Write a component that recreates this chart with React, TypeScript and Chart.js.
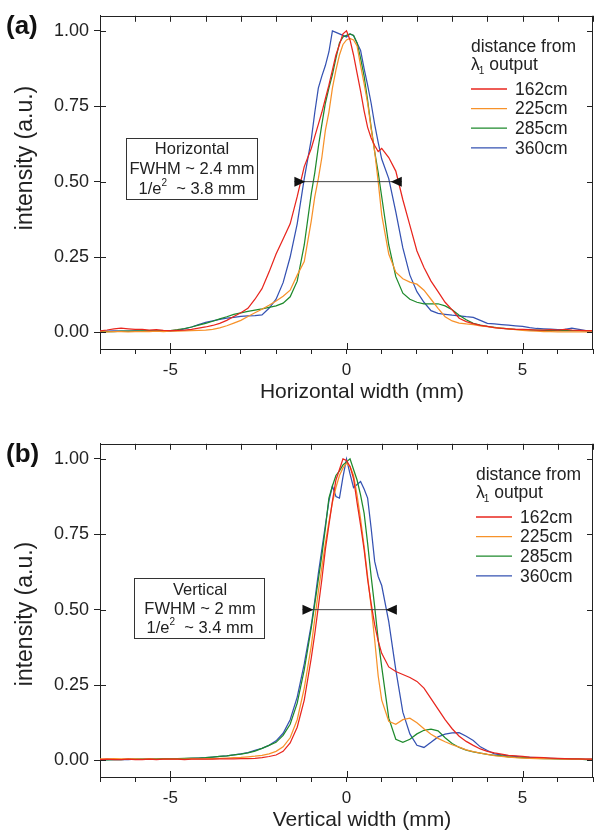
import React, { useEffect, useRef } from 'react';
import { Chart, registerables } from 'chart.js';

Chart.register(...registerables);

const FONT = '"Liberation Sans", Arial, Helvetica, sans-serif';

// shared x positions (mm)
const xValues = [
  -7.0, -6.8, -6.6, -6.4, -6.2, -6.0, -5.8, -5.6, -5.4, -5.2, -5.0, -4.8, -4.6, -4.4, -4.2, -4.0, -3.8, -3.6, -3.4, -3.2,
  -3.0, -2.8, -2.6, -2.4, -2.2, -2.0, -1.8, -1.6, -1.4, -1.2,
  -1.0, -0.9, -0.8, -0.7, -0.6, -0.5, -0.4, -0.3, -0.2, -0.1, 0, 0.1, 0.2, 0.3, 0.4, 0.5, 0.6, 0.7, 0.8, 0.9, 1.0,
  1.2, 1.4, 1.6, 1.8, 2.0, 2.2, 2.4, 2.6, 2.8, 3.0, 3.2, 3.4, 3.6, 3.8, 4.0, 4.2, 4.4, 4.6, 4.8,
  5.0, 5.2, 5.4, 5.6, 5.8, 6.0, 6.2, 6.4, 6.6, 6.8, 7.0,
];

// (a) horizontal profiles
const hRed = [
  0.005, 0.008, 0.012, 0.014, 0.012, 0.010, 0.010, 0.008, 0.009, 0.007, 0.006, 0.007, 0.008, 0.010, 0.014, 0.018, 0.023, 0.030, 0.040, 0.053,
  0.065, 0.080, 0.110, 0.145, 0.200, 0.260, 0.310, 0.360, 0.450, 0.550,
  0.61, 0.65, 0.69, 0.73, 0.775, 0.82, 0.87, 0.92, 0.955, 0.99, 1.0, 0.97, 0.92, 0.86, 0.80, 0.735, 0.68, 0.645, 0.62, 0.60, 0.61,
  0.58, 0.535, 0.44, 0.355, 0.27, 0.215, 0.17, 0.135, 0.10, 0.075, 0.047, 0.036, 0.029, 0.023, 0.020, 0.016, 0.013, 0.012, 0.010,
  0.010, 0.009, 0.008, 0.008, 0.009, 0.008, 0.010, 0.008, 0.007, 0.006, 0.006,
];
const hOrange = [
  0.002, 0.002, 0.003, 0.003, 0.002, 0.003, 0.003, 0.003, 0.004, 0.003, 0.004, 0.004, 0.005, 0.006, 0.007, 0.008, 0.010, 0.015, 0.022, 0.031,
  0.040, 0.053, 0.065, 0.077, 0.090, 0.104, 0.120, 0.140, 0.190, 0.235,
  0.37, 0.45, 0.51, 0.58, 0.67, 0.73, 0.81, 0.87, 0.92, 0.955, 0.97, 0.975, 0.97, 0.95, 0.885, 0.825, 0.76, 0.675, 0.60, 0.50, 0.39,
  0.26, 0.20, 0.178, 0.167, 0.16, 0.14, 0.11, 0.08, 0.052, 0.038, 0.031, 0.028, 0.026, 0.022, 0.019, 0.016, 0.014, 0.012, 0.009,
  0.007, 0.005, 0.004, 0.003, 0.003, 0.002, 0.002, 0.002, 0.002, 0.002, 0.002,
];
const hGreen = [
  0.003, 0.003, 0.003, 0.004, 0.004, 0.004, 0.005, 0.005, 0.005, 0.006, 0.006, 0.009, 0.013, 0.018, 0.024, 0.030, 0.037, 0.045, 0.052, 0.060,
  0.065, 0.070, 0.074, 0.078, 0.083, 0.088, 0.097, 0.118, 0.17, 0.29,
  0.46, 0.53, 0.615, 0.69, 0.76, 0.81, 0.855, 0.91, 0.96, 0.98, 0.985, 0.99, 0.985, 0.96, 0.91, 0.85, 0.77, 0.68, 0.60, 0.53, 0.45,
  0.29, 0.185, 0.13, 0.11, 0.10, 0.095, 0.095, 0.095, 0.088, 0.075, 0.057, 0.042, 0.030, 0.024, 0.020, 0.017, 0.014, 0.012, 0.010,
  0.009, 0.008, 0.008, 0.007, 0.007, 0.006, 0.006, 0.006, 0.006, 0.005, 0.005,
];
const hBlue = [
  0.004, 0.004, 0.005, 0.004, 0.004, 0.005, 0.004, 0.004, 0.005, 0.004, 0.004, 0.007, 0.012, 0.018, 0.026, 0.033, 0.038, 0.043, 0.047, 0.050,
  0.053, 0.055, 0.056, 0.058, 0.080, 0.11, 0.165, 0.25, 0.36, 0.51,
  0.64, 0.73, 0.81, 0.85, 0.885, 0.93, 1.0, 0.995, 0.99, 0.985, 0.98, 0.99, 0.985, 0.96, 0.935, 0.875, 0.82, 0.76, 0.69, 0.63, 0.575,
  0.51, 0.40, 0.28, 0.19, 0.135, 0.10, 0.072, 0.063, 0.060, 0.057, 0.055, 0.052, 0.050, 0.040, 0.030, 0.028, 0.026, 0.024, 0.022,
  0.020, 0.016, 0.013, 0.012, 0.011, 0.009, 0.010, 0.014, 0.010, 0.006, 0.005,
];

// (b) vertical profiles
const vRed = [
  0.003, 0.004, 0.003, 0.003, 0.004, 0.003, 0.003, 0.004, 0.003, 0.004, 0.004, 0.004, 0.003, 0.004, 0.004, 0.004, 0.004, 0.005, 0.005, 0.005,
  0.006, 0.006, 0.007, 0.009, 0.013, 0.018, 0.030, 0.058, 0.11, 0.20,
  0.34, 0.42, 0.51, 0.60, 0.70, 0.78, 0.86, 0.93, 0.965, 1.0, 0.995, 0.975, 0.935, 0.855, 0.78, 0.70, 0.60, 0.52, 0.45, 0.396, 0.355,
  0.31, 0.295, 0.285, 0.275, 0.262, 0.24, 0.205, 0.17, 0.135, 0.105, 0.08, 0.063, 0.05, 0.038, 0.03, 0.025, 0.021, 0.017, 0.015,
  0.013, 0.011, 0.010, 0.009, 0.008, 0.007, 0.006, 0.005, 0.005, 0.004, 0.004,
];
const vOrange = [
  0.005, 0.005, 0.006, 0.005, 0.005, 0.005, 0.004, 0.005, 0.004, 0.004, 0.004, 0.004, 0.004, 0.005, 0.005, 0.005, 0.006, 0.007, 0.008, 0.009,
  0.010, 0.012, 0.014, 0.017, 0.022, 0.030, 0.045, 0.075, 0.135, 0.24,
  0.38, 0.47, 0.56, 0.64, 0.72, 0.79, 0.855, 0.905, 0.945, 0.97, 0.985, 0.975, 0.945, 0.88, 0.80, 0.71, 0.61, 0.51, 0.40, 0.28, 0.20,
  0.13, 0.12, 0.135, 0.14, 0.125, 0.105, 0.087, 0.073, 0.062, 0.052, 0.044, 0.035, 0.029, 0.024, 0.020, 0.016, 0.013, 0.011, 0.009,
  0.008, 0.007, 0.006, 0.006, 0.005, 0.005, 0.004, 0.004, 0.004, 0.004, 0.004,
];
const vGreen = [
  0.002, 0.002, 0.003, 0.003, 0.004, 0.004, 0.004, 0.005, 0.005, 0.006, 0.006, 0.006, 0.007, 0.008, 0.008, 0.009, 0.011, 0.013, 0.015, 0.018,
  0.021, 0.025, 0.031, 0.040, 0.050, 0.060, 0.083, 0.12, 0.19, 0.30,
  0.44, 0.52, 0.60, 0.68, 0.77, 0.87, 0.91, 0.945, 0.96, 0.98, 0.99, 1.0, 0.965, 0.93, 0.88, 0.82, 0.72, 0.61, 0.51, 0.40, 0.31,
  0.14, 0.07, 0.06, 0.07, 0.088, 0.10, 0.104, 0.098, 0.075, 0.056, 0.043, 0.034, 0.028, 0.024, 0.020, 0.017, 0.015, 0.012, 0.010,
  0.009, 0.008, 0.007, 0.006, 0.006, 0.005, 0.005, 0.004, 0.004, 0.003, 0.003,
];
const vBlue = [
  0.003, 0.003, 0.003, 0.003, 0.003, 0.004, 0.004, 0.004, 0.004, 0.005, 0.005, 0.005, 0.006, 0.007, 0.008, 0.009, 0.011, 0.013, 0.015, 0.018,
  0.022, 0.026, 0.033, 0.040, 0.050, 0.065, 0.09, 0.135, 0.21, 0.32,
  0.45, 0.53, 0.62, 0.70, 0.78, 0.86, 0.91, 0.875, 0.87, 0.94, 1.0, 0.95, 0.905, 0.915, 0.925, 0.90, 0.87, 0.77, 0.66, 0.61, 0.58,
  0.46, 0.30, 0.16, 0.088, 0.05, 0.043, 0.06, 0.078, 0.087, 0.091, 0.092, 0.08, 0.066, 0.045, 0.033, 0.022, 0.018, 0.015, 0.013,
  0.011, 0.010, 0.009, 0.008, 0.007, 0.006, 0.005, 0.005, 0.004, 0.004, 0.004,
];

const seriesLabels = ['162cm', '225cm', '285cm', '360cm'];
const seriesColors = ['#e8261e', '#f7922a', '#1e8a2c', '#3552b2'];

// FWHM arrow extents (mm) at half maximum
const hArrow = [-1.48, 1.57];
const vArrow = [-1.25, 1.43];

type Seg = { t: string; sup?: boolean };

interface PanelSpec {
  tag: string;
  xTitle: string;
  series: number[][];
  arrow: number[];
  boxLines: Seg[][];
  box: number[]; // x, y, w, h
  boxTextX: number;
  boxTextY: number[];
  legendX: number;
  yTitleY: number;
}

const panelA: PanelSpec = {
  tag: '(a)',
  xTitle: 'Horizontal width (mm)',
  series: [hRed, hOrange, hGreen, hBlue],
  arrow: hArrow,
  boxLines: [[{ t: 'Horizontal' }], [{ t: 'FWHM ~ 2.4 mm' }], [{ t: '1/e' }, { t: '2', sup: true }, { t: '  ~ 3.8 mm' }]],
  box: [126, 138, 131, 61],
  boxTextX: 192,
  boxTextY: [149, 169.5, 189.5],
  legendX: 471,
  yTitleY: 158,
};

const panelB: PanelSpec = {
  tag: '(b)',
  xTitle: 'Vertical width (mm)',
  series: [vRed, vOrange, vGreen, vBlue],
  arrow: vArrow,
  boxLines: [[{ t: 'Vertical' }], [{ t: 'FWHM ~ 2 mm' }], [{ t: '1/e' }, { t: '2', sup: true }, { t: '  ~ 3.4 mm' }]],
  box: [134, 150, 130, 60],
  boxTextX: 200,
  boxTextY: [162, 181, 200],
  legendX: 476,
  yTitleY: 186,
};

const CW = 594;
const CH = 403;
const INK = '#222';

function Panel({ spec, top }: { spec: PanelSpec; top: number }) {
  const ref = useRef<HTMLCanvasElement>(null);

  useEffect(() => {
    const canvas = ref.current;
    if (!canvas) return;

    const decor = {
      id: 'decor',
      afterDraw(chart: any) {
        const ctx: CanvasRenderingContext2D = chart.ctx;
        const xs = chart.scales.x;
        const ys = chart.scales.y;
        const { left, right, top: t, bottom } = chart.chartArea;
        ctx.save();

        // frame (top, right) + inward ticks
        ctx.strokeStyle = INK;
        ctx.lineWidth = 1;
        ctx.beginPath();
        ctx.moveTo(left, Math.round(t) + 0.5);
        ctx.lineTo(right, Math.round(t) + 0.5);
        ctx.moveTo(Math.round(right) - 0.5, t);
        ctx.lineTo(Math.round(right) - 0.5, bottom);
        xs.ticks.forEach((tk: any) => {
          const px = Math.round(xs.getPixelForValue(tk.value)) + 0.5;
          ctx.moveTo(px, t);
          ctx.lineTo(px, t + 6);
          if (Math.abs(tk.value % 5) < 1e-9) {
            ctx.moveTo(px, bottom);
            ctx.lineTo(px, bottom - 6);
          }
        });
        ys.ticks.forEach((tk: any) => {
          const py = Math.round(ys.getPixelForValue(tk.value)) + 0.5;
          ctx.moveTo(left, py);
          ctx.lineTo(left + 6, py);
          ctx.moveTo(right, py);
          ctx.lineTo(right - 6, py);
        });
        ctx.stroke();

        // FWHM arrow
        const ay = ys.getPixelForValue(0.5);
        const a0 = xs.getPixelForValue(spec.arrow[0]);
        const a1 = xs.getPixelForValue(spec.arrow[1]);
        ctx.strokeStyle = '#444';
        ctx.beginPath();
        ctx.moveTo(a0, ay);
        ctx.lineTo(a1, ay);
        ctx.stroke();
        ctx.fillStyle = '#111';
        ctx.beginPath();
        ctx.moveTo(a0, ay - 5);
        ctx.lineTo(a0, ay + 5);
        ctx.lineTo(a0 + 11, ay);
        ctx.closePath();
        ctx.moveTo(a1, ay - 5);
        ctx.lineTo(a1, ay + 5);
        ctx.lineTo(a1 - 11, ay);
        ctx.closePath();
        ctx.fill();

        // annotation box
        const [bx, by, bw, bh] = spec.box;
        ctx.strokeStyle = '#333';
        ctx.strokeRect(bx + 0.5, by + 0.5, bw, bh);
        ctx.fillStyle = INK;
        ctx.textBaseline = 'middle';
        ctx.textAlign = 'left';
        spec.boxLines.forEach((segs, i) => {
          const main = `16.5px ${FONT}`;
          const small = `10px ${FONT}`;
          let total = 0;
          segs.forEach((s) => {
            ctx.font = s.sup ? small : main;
            total += ctx.measureText(s.t).width;
          });
          let cx = spec.boxTextX - total / 2;
          const cy = spec.boxTextY[i];
          segs.forEach((s) => {
            ctx.font = s.sup ? small : main;
            ctx.fillText(s.t, cx, s.sup ? cy - 6 : cy);
            cx += ctx.measureText(s.t).width;
          });
        });

        // legend
        const lx = spec.legendX;
        ctx.font = `17.5px ${FONT}`;
        ctx.textBaseline = 'alphabetic';
        ctx.fillText('distance from', lx, 52);
        ctx.fillText('\u03bb', lx, 70);
        const lw = ctx.measureText('\u03bb').width;
        ctx.font = `10px ${FONT}`;
        ctx.fillText('1', lx + lw - 1, 74);
        const sw = ctx.measureText('1').width;
        ctx.font = `17.5px ${FONT}`;
        ctx.fillText(' output', lx + lw - 1 + sw, 70);
        ctx.textBaseline = 'middle';
        seriesLabels.forEach((lab, i) => {
          const ly = 89 + i * 19.6;
          ctx.strokeStyle = seriesColors[i];
          ctx.lineWidth = 1.3;
          ctx.beginPath();
          ctx.moveTo(lx, ly);
          ctx.lineTo(lx + 36, ly);
          ctx.stroke();
          ctx.fillStyle = INK;
          ctx.fillText(lab, lx + 44, ly + 1);
        });

        // panel tag
        ctx.font = `bold 26px ${FONT}`;
        ctx.textBaseline = 'alphabetic';
        ctx.textAlign = 'left';
        ctx.fillStyle = '#111';
        ctx.fillText(spec.tag, 6, 34);

        // axis titles
        ctx.fillStyle = INK;
        ctx.font = `21px ${FONT}`;
        ctx.textAlign = 'center';
        ctx.fillText(spec.xTitle, 362, 398);
        ctx.save();
        ctx.translate(26, spec.yTitleY);
        ctx.rotate(-Math.PI / 2);
        ctx.font = `23px ${FONT}`;
        ctx.textBaseline = 'middle';
        ctx.fillText('intensity (a.u.)', 0, 0);
        ctx.restore();

        ctx.restore();
      },
    };

    const chart = new Chart(canvas, {
      type: 'line',
      data: {
        datasets: spec.series.map((arr, i) => ({
          label: seriesLabels[i],
          data: xValues.map((x, j) => ({ x, y: arr[j] })),
          borderColor: seriesColors[i],
          borderWidth: 1.25,
          pointRadius: 0,
          fill: false,
          tension: 0,
        })),
      },
      options: {
        animation: false,
        responsive: false,
        devicePixelRatio: 1,
        events: [],
        layout: { padding: { top: 15, right: 1, bottom: 0, left: 0 } },
        plugins: { legend: { display: false }, tooltip: { enabled: false }, title: { display: false } },
        scales: {
          x: {
            type: 'linear',
            position: 'bottom',
            min: -7,
            max: 7,
            afterFit: (s: any) => {
              s.height = 54;
              s.paddingLeft = 0;
              s.paddingRight = 0;
            },
            ticks: {
              stepSize: 1,
              includeBounds: false,
              autoSkip: false,
              maxRotation: 0,
              padding: 6,
              color: INK,
              font: { family: FONT, size: 17 },
              callback: (v: any) => (Math.abs(Number(v) % 5) < 1e-9 ? String(v) : ''),
            },
            grid: { drawOnChartArea: false, drawTicks: true, tickLength: 5, color: INK, tickColor: INK },
            border: { display: true, color: INK, width: 1 },
          },
          y: {
            type: 'linear',
            position: 'left',
            min: -0.055,
            max: 1.05,
            afterFit: (s: any) => {
              s.width = 100;
            },
            ticks: {
              stepSize: 0.25,
              includeBounds: false,
              padding: 5,
              color: INK,
              font: { family: FONT, size: 18 },
              callback: (v: any) => Number(v).toFixed(2),
            },
            grid: { drawOnChartArea: false, drawTicks: true, tickLength: 6, color: INK, tickColor: INK },
            border: { display: true, color: INK, width: 1 },
          },
        },
      } as any,
      plugins: [decor],
    });

    return () => chart.destroy();
  }, [spec]);

  return (
    <canvas
      ref={ref}
      width={CW}
      height={CH}
      style={{ position: 'absolute', left: 0, top, width: CW, height: CH, display: 'block' }}
    />
  );
}

export default function App() {
  return (
    <div style={{ position: 'absolute', left: 0, top: 0, width: CW, height: 831, background: '#fff', overflow: 'hidden' }}>
      <Panel spec={panelA} top={0} />
      <Panel spec={panelB} top={428} />
    </div>
  );
}
